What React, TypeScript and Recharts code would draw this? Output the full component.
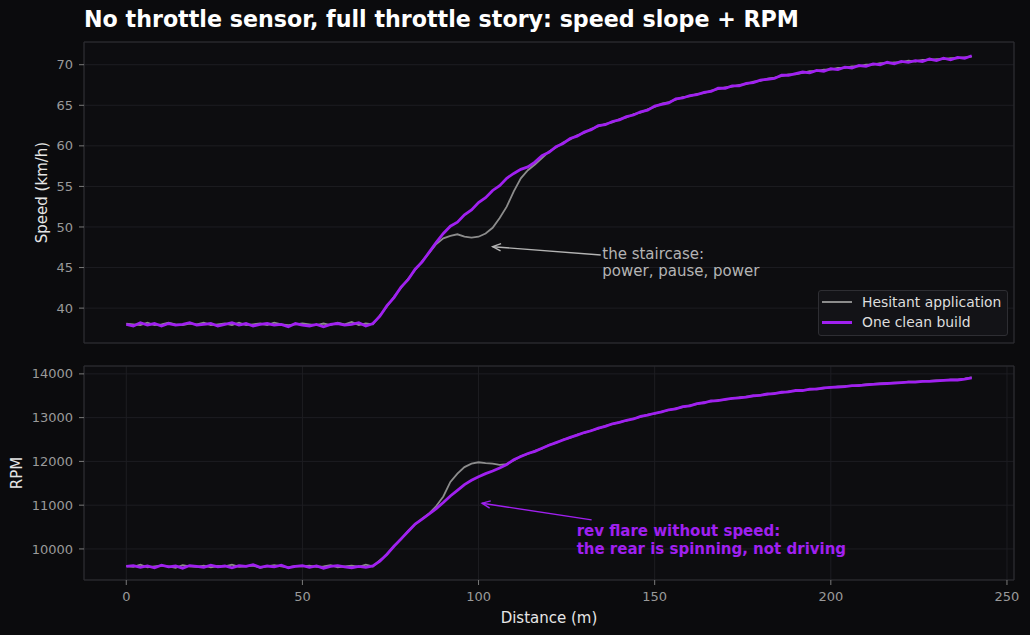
import React from 'react';
import { CartesianGrid, Legend, Line, LineChart, ReferenceArea, ReferenceLine, XAxis, YAxis } from 'recharts';

// sampled every 2 m
const distance = Array.from({ length: 121 }, (_, i) => i * 2);

const speedHesitant = [
  38.1, 38.0, 37.9, 38.2, 37.9, 38.0, 38.2, 38.0, 37.9, 38.1,
  38.0, 38.2, 37.9, 38.0, 38.1, 37.9, 38.2, 37.9, 38.0, 38.1,
  37.9, 38.2, 38.0, 37.9, 38.0, 38.1, 38.0, 37.9, 38.1, 37.9,
  38.2, 38.0, 38.3, 37.9, 38.1, 38.0,
  39.1, 40.2, 41.4, 42.5, 43.6, 44.7, 45.8, 46.8, 47.9, 48.6,
  48.9, 49.1, 48.8, 48.7, 48.8, 49.2, 49.9, 51.1, 52.5, 54.4,
  56.0, 57.0, 57.7, 58.5, 59.3,
  59.8, 60.4, 60.8, 61.3, 61.6, 62.1, 62.4, 62.7, 62.9, 63.3,
  63.5, 63.9, 64.1, 64.5, 64.8, 65.2, 65.4, 65.7, 66.0, 66.1,
  66.4, 66.5, 66.8, 67.0, 67.2, 67.3, 67.5, 67.6, 67.9, 68.0,
  68.3, 68.4, 68.6, 68.8, 68.8, 69.0, 69.2, 69.2, 69.4, 69.4,
  69.6, 69.6, 69.8, 69.8, 70.0, 70.0, 70.2, 70.2, 70.3, 70.3,
  70.5, 70.4, 70.6, 70.6, 70.7, 70.7, 70.8, 70.8, 70.9, 71.0,
];

const speedClean = [
  38.0, 37.8, 38.2, 37.9, 38.1, 37.8, 38.1, 37.9, 38.0, 38.2,
  37.9, 38.0, 38.1, 37.8, 38.0, 38.2, 37.9, 38.1, 37.8, 38.0,
  38.1, 37.9, 38.0, 37.7, 38.1, 37.9, 37.8, 38.0, 37.7, 38.0,
  38.1, 37.9, 38.0, 38.2, 37.8, 38.1,
  39.0, 40.3, 41.3, 42.6, 43.5, 44.8, 45.7, 46.9, 48.1, 49.2,
  50.1, 50.6, 51.5, 52.1, 53.0, 53.6, 54.5, 55.1, 56.0, 56.6,
  57.1, 57.4, 58.0, 58.8, 59.2,
  59.9, 60.3, 60.9, 61.2, 61.7, 62.0, 62.5, 62.6, 63.0, 63.2,
  63.6, 63.8, 64.2, 64.4, 64.9, 65.1, 65.3, 65.8, 65.9, 66.2,
  66.3, 66.6, 66.7, 67.1, 67.1, 67.4, 67.4, 67.7, 67.8, 68.1,
  68.2, 68.3, 68.7, 68.7, 68.9, 69.1, 69.0, 69.3, 69.2, 69.5,
  69.4, 69.7, 69.6, 69.9, 69.8, 70.1, 70.0, 70.3, 70.1, 70.4,
  70.3, 70.5, 70.4, 70.7, 70.5, 70.8, 70.6, 70.9, 70.8, 71.1,
];

const rpmHesitant = [
  9610, 9590, 9640, 9580, 9600, 9620, 9600, 9570, 9630, 9600,
  9590, 9620, 9580, 9610, 9600, 9640, 9590, 9600, 9620, 9570,
  9600, 9630, 9600, 9580, 9610, 9600, 9620, 9590, 9600, 9630,
  9580, 9600, 9620, 9590, 9640, 9600,
  9740, 9870, 10070, 10220, 10410, 10560, 10690, 10810, 10980, 11200,
  11530, 11720, 11870, 11950, 11980, 11960, 11950, 11920, 11940, 12020,
  12120, 12170, 12240, 12290, 12380,
  12420, 12500, 12540, 12610, 12650, 12710, 12750, 12810, 12850, 12900,
  12930, 12980, 13020, 13070, 13090, 13140, 13170, 13210, 13240, 13280,
  13310, 13350, 13370, 13400, 13410, 13440, 13460, 13480, 13490, 13520,
  13530, 13560, 13570, 13600, 13610, 13630, 13640, 13660, 13670, 13690,
  13710, 13720, 13720, 13740, 13760, 13770, 13780, 13790, 13800, 13800,
  13820, 13820, 13830, 13840, 13850, 13850, 13870, 13870, 13890, 13920,
];

const rpmClean = [
  9600, 9620, 9580, 9610, 9570, 9630, 9590, 9610, 9560, 9620,
  9600, 9580, 9630, 9590, 9610, 9570, 9620, 9600, 9640, 9580,
  9610, 9590, 9630, 9570, 9600, 9620, 9580, 9610, 9560, 9600,
  9620, 9590, 9570, 9600, 9580, 9610,
  9720, 9880, 10060, 10230, 10400, 10570, 10680, 10800, 10920, 11060,
  11210, 11340, 11470, 11570, 11650, 11720, 11780, 11850, 11930, 12040,
  12110, 12180, 12230, 12300, 12370,
  12430, 12490, 12550, 12600, 12660, 12700, 12760, 12800, 12860, 12890,
  12940, 12970, 13030, 13060, 13100, 13130, 13180, 13200, 13250, 13270,
  13320, 13340, 13380, 13390, 13420, 13440, 13450, 13470, 13500, 13510,
  13540, 13550, 13580, 13590, 13620, 13620, 13650, 13650, 13680, 13690,
  13700, 13710, 13730, 13730, 13750, 13760, 13770, 13780, 13790, 13800,
  13810, 13810, 13830, 13830, 13840, 13850, 13860, 13860, 13880, 13910,
];

const xTicks = [0, 50, 100, 150, 200, 250];
const speedTicks = [40, 45, 50, 55, 60, 65, 70];
const rpmTicks = [10000, 11000, 12000, 13000, 14000];
const xDomain: [number, number] = [-12, 252];
const speedDomain: [number, number] = [35.7, 72.8];
const rpmDomain: [number, number] = [9290, 14180];

const staircaseArrow = [{ x: 134.7, y: 46.55 }, { x: 104.0, y: 47.57 }];
const flareArrow = [{ x: 132.1, y: 10663 }, { x: 101.0, y: 11045 }];

const GRAY = '#8c8c8c';
const PURPLE = '#a020f0';
const BG = '#0b0b0d';
const PLOT_BG = '#0d0d10';
const GRID = '#1d1d22';
const FRAME = '#2e2e33';
const TICK = '#9a9a9a';
const LABEL = '#e6e6e6';
const FONT = '"DejaVu Sans", sans-serif';

const speedRows = distance.map((d, i) => ({ d, hesitant: speedHesitant[i], clean: speedClean[i] }));
const rpmRows = distance.map((d, i) => ({ d, hesitant: rpmHesitant[i], clean: rpmClean[i] }));

const tickStyle = { fill: TICK, fontSize: 13, fontFamily: FONT };

function arrowShape(color: string, lines: string[], bold: boolean, dx: number, dy: number) {
  return (props: any) => {
    const { x1, y1, x2, y2 } = props;
    const a = Math.atan2(y2 - y1, x2 - x1);
    const L = 9;
    const w = 0.42;
    const p1 = `${x2 - L * Math.cos(a - w)},${y2 - L * Math.sin(a - w)}`;
    const p2 = `${x2 - L * Math.cos(a + w)},${y2 - L * Math.sin(a + w)}`;
    return (
      <g>
        <line x1={x1} y1={y1} x2={x2} y2={y2} stroke={color} strokeWidth={1.4} />
        <polyline points={`${p1} ${x2},${y2} ${p2}`} fill="none" stroke={color} strokeWidth={1.4} />
        {lines.map((t, i) => (
          <text
            key={i}
            x={x1 + dx}
            y={y1 + dy + i * 17.3}
            fill={color}
            fontSize={15}
            fontWeight={bold ? 'bold' : 'normal'}
            fontFamily={FONT}
          >
            {t}
          </text>
        ))}
      </g>
    );
  };
}

function LegendBox({ payload }: any) {
  return (
    <div
      style={{
        position: 'relative',
        boxSizing: 'border-box',
        width: 190,
        height: 46,
        background: '#131317',
        border: `1px solid ${FRAME}`,
        borderRadius: 3,
        fontFamily: FONT,
        fontSize: 13.9,
        color: '#dedede',
      }}
    >
      {(payload || []).map((p: any, i: number) => (
        <div key={p.value} style={{ position: 'absolute', left: 3, top: 1 + i * 20.5, height: 19, display: 'flex', alignItems: 'center' }}>
          <span style={{ display: 'inline-block', width: 30, height: i === 0 ? 2 : 3, background: p.color }} />
          <span style={{ marginLeft: 10, whiteSpace: 'nowrap' }}>{p.value}</span>
        </div>
      ))}
    </div>
  );
}

function axisTitle(text: string, x: number, y: number, rotate: boolean) {
  return () => (
    <text
      x={x}
      y={y}
      fill={LABEL}
      fontSize={15}
      fontFamily={FONT}
      textAnchor="middle"
      dominantBaseline="central"
      transform={rotate ? `rotate(-90 ${x} ${y})` : undefined}
    >
      {text}
    </text>
  );
}

export default function App() {
  return (
    <div style={{ position: 'relative', width: 1030, height: 635, background: BG, overflow: 'hidden' }}>
      <style>{`body{margin:0;background:${BG};}`}</style>
      <svg width={1030} height={40} style={{ position: 'absolute', left: 0, top: 0 }}>
        <text x={84} y={26.5} fill="#ffffff" fontSize={22.2} fontWeight="bold" fontFamily={FONT}>
          No throttle sensor, full throttle story: speed slope + RPM
        </text>
      </svg>

      <div style={{ position: 'absolute', left: 0, top: 0 }}>
        <LineChart width={1030} height={350} data={speedRows} margin={{ top: 42, right: 16, bottom: 0, left: 0 }}>
          <CartesianGrid stroke={GRID} fill={PLOT_BG} />
          <XAxis
            type="number"
            dataKey="d"
            domain={xDomain}
            ticks={xTicks}
            allowDataOverflow
            height={7}
            tick={false}
            tickSize={5}
            axisLine={false}
            tickLine={{ stroke: '#7a7a7a' }}
          />
          <YAxis
            domain={speedDomain}
            ticks={speedTicks}
            allowDataOverflow
            width={84}
            tick={tickStyle}
            tickSize={5}
            tickMargin={6}
            axisLine={false}
            tickLine={{ stroke: '#7a7a7a' }}
            label={{ content: axisTitle('Speed (km/h)', 42, 192.5, true) }}
          />
          <ReferenceArea x1={xDomain[0]} x2={xDomain[1]} y1={speedDomain[0]} y2={speedDomain[1]} fill="none" stroke={FRAME} strokeWidth={1} />
          <ReferenceLine segment={staircaseArrow} shape={arrowShape('#b4b4b4', ['the staircase:', 'power, pause, power'], false, 1.5, 4)} />
          <Line type="linear" dataKey="hesitant" name="Hesitant application" stroke={GRAY} strokeWidth={1.8} dot={false} isAnimationActive={false} />
          <Line type="linear" dataKey="clean" name="One clean build" stroke={PURPLE} strokeWidth={2.8} dot={false} isAnimationActive={false} />
          <Legend
            layout="vertical"
            align="center"
            verticalAlign="middle"
            content={<LegendBox />}
            wrapperStyle={{ left: 818, top: 290, width: 190, height: 46 }}
          />
        </LineChart>
      </div>

      <div style={{ position: 'absolute', left: 0, top: 350 }}>
        <LineChart width={1030} height={285} data={rpmRows} margin={{ top: 16, right: 16, bottom: 0, left: 0 }}>
          <CartesianGrid stroke={GRID} fill={PLOT_BG} />
          <XAxis
            type="number"
            dataKey="d"
            domain={xDomain}
            ticks={xTicks}
            allowDataOverflow
            height={55}
            tick={tickStyle}
            tickSize={5}
            tickMargin={7}
            axisLine={false}
            tickLine={{ stroke: '#7a7a7a' }}
            label={{ content: axisTitle('Distance (m)', 549, 268, false) }}
          />
          <YAxis
            domain={rpmDomain}
            ticks={rpmTicks}
            allowDataOverflow
            width={84}
            tick={tickStyle}
            tickSize={5}
            tickMargin={6}
            axisLine={false}
            tickLine={{ stroke: '#7a7a7a' }}
            label={{ content: axisTitle('RPM', 17, 123, true) }}
          />
          <ReferenceArea x1={xDomain[0]} x2={xDomain[1]} y1={rpmDomain[0]} y2={rpmDomain[1]} fill="none" stroke={FRAME} strokeWidth={1} />
          <ReferenceLine
            segment={flareArrow}
            shape={arrowShape(PURPLE, ['rev flare without speed:', 'the rear is spinning, not driving'], true, -15, 16.5)}
          />
          <Line type="linear" dataKey="hesitant" name="Hesitant application" stroke={GRAY} strokeWidth={1.8} dot={false} isAnimationActive={false} />
          <Line type="linear" dataKey="clean" name="One clean build" stroke={PURPLE} strokeWidth={2.8} dot={false} isAnimationActive={false} />
        </LineChart>
      </div>
    </div>
  );
}
